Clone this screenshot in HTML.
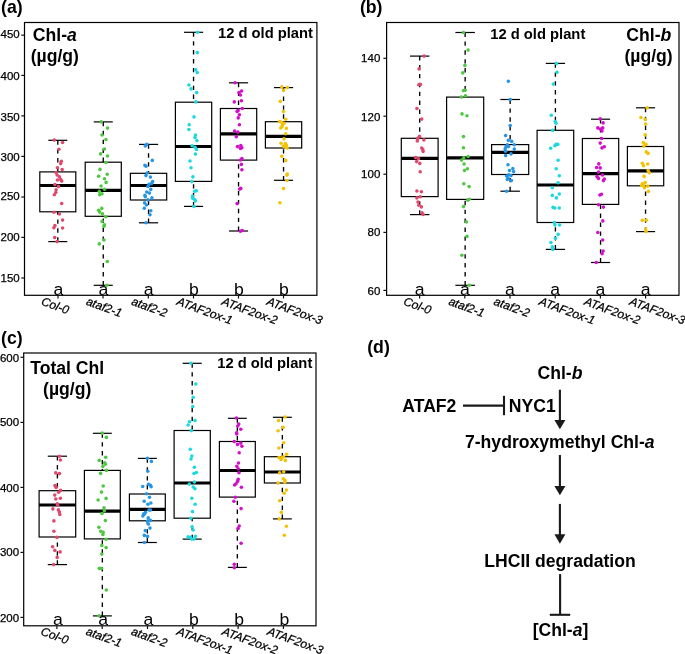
<!DOCTYPE html>
<html><head><meta charset="utf-8"><style>
html,body{margin:0;padding:0;background:#fff;overflow:hidden;}
svg{display:block;will-change:transform;}
text{font-family:"Liberation Sans", sans-serif;}
.w{stroke:#000;stroke-width:1.35;stroke-dasharray:4.4 4.5;}
.c{stroke:#000;stroke-width:1.2;}
.b{fill:none;stroke:#000;stroke-width:1.2;}
.m{stroke:#000;stroke-width:3.2;}
.fr{fill:none;stroke:#000;stroke-width:1.2;}
.tk{stroke:#111;stroke-width:1.2;}
.yl{font-size:11.5px;text-anchor:end;fill:#000;stroke:#000;stroke-width:0.25;}
.xl{font-size:11.9px;font-style:italic;fill:#000;stroke:#000;stroke-width:0.25;}
.lt{font-size:16.5px;text-anchor:middle;fill:#000;}
.tb{font-weight:bold;fill:#000;}
.pl{font-weight:bold;font-size:17.7px;fill:#000;}
.dt{font-weight:bold;font-size:17.6px;fill:#000;}
.ar{stroke:#1a1a1a;stroke-width:2.1;fill:none;}
</style></head><body>
<svg width="685" height="654" viewBox="0 0 685 654">
<rect width="685" height="654" fill="#fff"/>
<text x="1.0" y="13.1" class="pl">(a)</text>
<text x="359.9" y="12.7" class="pl">(b)</text>
<text x="1.0" y="343.6" class="pl">(c)</text>
<text x="367.2" y="352.8" class="pl">(d)</text>
<text x="54.8" y="40.9" class="tb" font-size="17.6" text-anchor="middle">Chl-<tspan font-style="italic">a</tspan></text>
<text x="54.8" y="62" class="tb" font-size="17.6" text-anchor="middle">(µg/g)</text>
<text x="313.0" y="38.2" class="tb" font-size="14.75" text-anchor="end">12 d old plant</text>
<text x="648.8" y="40.5" class="tb" font-size="17.6" text-anchor="middle">Chl-<tspan font-style="italic">b</tspan></text>
<text x="648.6" y="61.8" class="tb" font-size="17.6" text-anchor="middle">(µg/g)</text>
<text x="585.3" y="39.2" class="tb" font-size="14.75" text-anchor="end">12 d old plant</text>
<text x="67.2" y="373.7" class="tb" font-size="17.6" text-anchor="middle">Total Chl</text>
<text x="67.2" y="394.8" class="tb" font-size="17.6" text-anchor="middle">(µg/g)</text>
<text x="312.3" y="368.3" class="tb" font-size="14.75" text-anchor="end">12 d old plant</text>
<line x1="57.8" y1="140.3" x2="57.8" y2="171.9" class="w"/>
<line x1="57.8" y1="241.6" x2="57.8" y2="211.8" class="w"/>
<line x1="48.3" y1="140.3" x2="67.3" y2="140.3" class="c"/>
<line x1="48.3" y1="241.6" x2="67.3" y2="241.6" class="c"/>
<rect x="39.8" y="171.9" width="36" height="39.9" class="b"/>
<line x1="39.8" y1="185.5" x2="75.8" y2="185.5" class="m"/>
<line x1="103.25" y1="121.9" x2="103.25" y2="162.2" class="w"/>
<line x1="103.25" y1="285.3" x2="103.25" y2="216.3" class="w"/>
<line x1="93.72" y1="121.9" x2="112.78" y2="121.9" class="c"/>
<line x1="93.72" y1="285.3" x2="112.78" y2="285.3" class="c"/>
<rect x="85.2" y="162.2" width="36.1" height="54.1" class="b"/>
<line x1="85.2" y1="190.3" x2="121.3" y2="190.3" class="m"/>
<line x1="148.55" y1="144.4" x2="148.55" y2="173.3" class="w"/>
<line x1="148.55" y1="222.8" x2="148.55" y2="200" class="w"/>
<line x1="138.98" y1="144.4" x2="158.12" y2="144.4" class="c"/>
<line x1="138.98" y1="222.8" x2="158.12" y2="222.8" class="c"/>
<rect x="130.4" y="173.3" width="36.3" height="26.7" class="b"/>
<line x1="130.4" y1="185.5" x2="166.7" y2="185.5" class="m"/>
<line x1="193.55" y1="32.3" x2="193.55" y2="102.2" class="w"/>
<line x1="193.55" y1="206.4" x2="193.55" y2="181.4" class="w"/>
<line x1="183.98" y1="32.3" x2="203.12" y2="32.3" class="c"/>
<line x1="183.98" y1="206.4" x2="203.12" y2="206.4" class="c"/>
<rect x="175.4" y="102.2" width="36.3" height="79.2" class="b"/>
<line x1="175.4" y1="146.5" x2="211.7" y2="146.5" class="m"/>
<line x1="238.55" y1="82.8" x2="238.55" y2="108.5" class="w"/>
<line x1="238.55" y1="231" x2="238.55" y2="160.1" class="w"/>
<line x1="228.98" y1="82.8" x2="248.12" y2="82.8" class="c"/>
<line x1="228.98" y1="231" x2="248.12" y2="231" class="c"/>
<rect x="220.4" y="108.5" width="36.3" height="51.6" class="b"/>
<line x1="220.4" y1="133.9" x2="256.7" y2="133.9" class="m"/>
<line x1="283.55" y1="87.6" x2="283.55" y2="121.7" class="w"/>
<line x1="283.55" y1="180.3" x2="283.55" y2="148" class="w"/>
<line x1="273.97" y1="87.6" x2="293.12" y2="87.6" class="c"/>
<line x1="273.97" y1="180.3" x2="293.12" y2="180.3" class="c"/>
<rect x="265.4" y="121.7" width="36.3" height="26.3" class="b"/>
<line x1="265.4" y1="136.4" x2="301.7" y2="136.4" class="m"/>
<g fill="#E0486C">
<circle cx="54.3" cy="140.1" r="1.78"/>
<circle cx="62.6" cy="142.5" r="1.78"/>
<circle cx="58.9" cy="149.3" r="1.78"/>
<circle cx="61.3" cy="161.25" r="1.78"/>
<circle cx="60.7" cy="163.6" r="1.78"/>
<circle cx="57.4" cy="167.7" r="1.78"/>
<circle cx="62.2" cy="169.5" r="1.78"/>
<circle cx="56.1" cy="172.6" r="1.78"/>
<circle cx="57.1" cy="175" r="1.78"/>
<circle cx="59.4" cy="176.9" r="1.78"/>
<circle cx="60.7" cy="179.6" r="1.78"/>
<circle cx="57.4" cy="180" r="1.78"/>
<circle cx="61.7" cy="181.1" r="1.78"/>
<circle cx="54.9" cy="184.6" r="1.78"/>
<circle cx="58.5" cy="186.4" r="1.78"/>
<circle cx="56.1" cy="189.7" r="1.78"/>
<circle cx="55.8" cy="192.5" r="1.78"/>
<circle cx="54.3" cy="194.7" r="1.78"/>
<circle cx="61.7" cy="203.5" r="1.78"/>
<circle cx="53.9" cy="212.2" r="1.78"/>
<circle cx="59.4" cy="214" r="1.78"/>
<circle cx="62.6" cy="220.1" r="1.78"/>
<circle cx="54.9" cy="225.6" r="1.78"/>
<circle cx="53.9" cy="227.8" r="1.78"/>
<circle cx="62.6" cy="228" r="1.78"/>
<circle cx="54.7" cy="237.5" r="1.78"/>
<circle cx="57.1" cy="241.6" r="1.78"/>
</g>
<g fill="#4EC841">
<circle cx="101.3" cy="121.9" r="1.78"/>
<circle cx="107.5" cy="128.1" r="1.78"/>
<circle cx="102" cy="135" r="1.78"/>
<circle cx="105.9" cy="139.5" r="1.78"/>
<circle cx="104.4" cy="149.1" r="1.78"/>
<circle cx="100.6" cy="153.9" r="1.78"/>
<circle cx="107.5" cy="156" r="1.78"/>
<circle cx="105.9" cy="162.5" r="1.78"/>
<circle cx="100" cy="169.4" r="1.78"/>
<circle cx="98.6" cy="176.2" r="1.78"/>
<circle cx="107.2" cy="174.2" r="1.78"/>
<circle cx="104.5" cy="178.7" r="1.78"/>
<circle cx="106.1" cy="182.4" r="1.78"/>
<circle cx="101.1" cy="186" r="1.78"/>
<circle cx="104.5" cy="189.3" r="1.78"/>
<circle cx="99.3" cy="191.4" r="1.78"/>
<circle cx="102" cy="193.7" r="1.78"/>
<circle cx="99.7" cy="194.8" r="1.78"/>
<circle cx="101.8" cy="208.4" r="1.78"/>
<circle cx="98.6" cy="210.2" r="1.78"/>
<circle cx="99.6" cy="212.1" r="1.78"/>
<circle cx="102.5" cy="213.9" r="1.78"/>
<circle cx="105.8" cy="216.8" r="1.78"/>
<circle cx="102.1" cy="221.4" r="1.78"/>
<circle cx="104.4" cy="224.8" r="1.78"/>
<circle cx="104" cy="226.2" r="1.78"/>
<circle cx="104" cy="240" r="1.78"/>
<circle cx="99.3" cy="243.9" r="1.78"/>
<circle cx="107.3" cy="261.5" r="1.78"/>
<circle cx="106.9" cy="285.3" r="1.78"/>
</g>
<g fill="#2595E6">
<circle cx="145.3" cy="145.9" r="1.78"/>
<circle cx="146.8" cy="144.4" r="1.78"/>
<circle cx="152.3" cy="160.4" r="1.78"/>
<circle cx="144.9" cy="165.2" r="1.78"/>
<circle cx="146" cy="166.2" r="1.78"/>
<circle cx="147.2" cy="173" r="1.78"/>
<circle cx="146" cy="175.6" r="1.78"/>
<circle cx="150.4" cy="177.1" r="1.78"/>
<circle cx="152.6" cy="181.5" r="1.78"/>
<circle cx="149" cy="184.4" r="1.78"/>
<circle cx="151.6" cy="183.6" r="1.78"/>
<circle cx="147.8" cy="186.5" r="1.78"/>
<circle cx="150.8" cy="189.4" r="1.78"/>
<circle cx="146.8" cy="192" r="1.78"/>
<circle cx="149.4" cy="193.1" r="1.78"/>
<circle cx="144.9" cy="195.2" r="1.78"/>
<circle cx="145.3" cy="196.7" r="1.78"/>
<circle cx="151.9" cy="197.9" r="1.78"/>
<circle cx="147.9" cy="199.9" r="1.78"/>
<circle cx="144.6" cy="202.9" r="1.78"/>
<circle cx="146.5" cy="205" r="1.78"/>
<circle cx="144.3" cy="208.3" r="1.78"/>
<circle cx="150.8" cy="210.8" r="1.78"/>
<circle cx="150" cy="214.8" r="1.78"/>
<circle cx="146" cy="222.8" r="1.78"/>
</g>
<g fill="#1CD8DF">
<circle cx="197.6" cy="32.3" r="1.78"/>
<circle cx="197.3" cy="52.6" r="1.78"/>
<circle cx="195.7" cy="69.7" r="1.78"/>
<circle cx="197.3" cy="72.6" r="1.78"/>
<circle cx="188.9" cy="85" r="1.78"/>
<circle cx="191" cy="88.9" r="1.78"/>
<circle cx="196.6" cy="92.5" r="1.78"/>
<circle cx="195.8" cy="101.9" r="1.78"/>
<circle cx="194" cy="116.9" r="1.78"/>
<circle cx="189.2" cy="124.7" r="1.78"/>
<circle cx="188.9" cy="129.5" r="1.78"/>
<circle cx="195.4" cy="135.1" r="1.78"/>
<circle cx="195" cy="137.5" r="1.78"/>
<circle cx="196.9" cy="140.6" r="1.78"/>
<circle cx="192.1" cy="145.7" r="1.78"/>
<circle cx="195" cy="147.2" r="1.78"/>
<circle cx="196.4" cy="149.4" r="1.78"/>
<circle cx="195.4" cy="154.1" r="1.78"/>
<circle cx="190" cy="161" r="1.78"/>
<circle cx="191" cy="167.8" r="1.78"/>
<circle cx="192.9" cy="176.9" r="1.78"/>
<circle cx="191.8" cy="181.6" r="1.78"/>
<circle cx="194.7" cy="191.2" r="1.78"/>
<circle cx="196.4" cy="190.7" r="1.78"/>
<circle cx="192.5" cy="196" r="1.78"/>
<circle cx="192.5" cy="198.1" r="1.78"/>
<circle cx="194.7" cy="199.6" r="1.78"/>
<circle cx="195.4" cy="201" r="1.78"/>
<circle cx="194" cy="206.4" r="1.78"/>
</g>
<g fill="#D30FC9">
<circle cx="235" cy="82.8" r="1.78"/>
<circle cx="241.6" cy="91" r="1.78"/>
<circle cx="239" cy="92.5" r="1.78"/>
<circle cx="240.4" cy="95" r="1.78"/>
<circle cx="234.3" cy="101.9" r="1.78"/>
<circle cx="241.4" cy="100.8" r="1.78"/>
<circle cx="242.3" cy="108.5" r="1.78"/>
<circle cx="238.2" cy="110.4" r="1.78"/>
<circle cx="237.1" cy="111.4" r="1.78"/>
<circle cx="239.4" cy="114.7" r="1.78"/>
<circle cx="238.2" cy="117.9" r="1.78"/>
<circle cx="239.4" cy="124.7" r="1.78"/>
<circle cx="234.6" cy="131" r="1.78"/>
<circle cx="237.8" cy="132.1" r="1.78"/>
<circle cx="236.3" cy="136.8" r="1.78"/>
<circle cx="237.5" cy="146.6" r="1.78"/>
<circle cx="240.8" cy="145.5" r="1.78"/>
<circle cx="241.9" cy="147.7" r="1.78"/>
<circle cx="240.4" cy="148.4" r="1.78"/>
<circle cx="241.9" cy="158.5" r="1.78"/>
<circle cx="240.4" cy="160" r="1.78"/>
<circle cx="241.4" cy="164.4" r="1.78"/>
<circle cx="241.9" cy="169.8" r="1.78"/>
<circle cx="240.8" cy="188.4" r="1.78"/>
<circle cx="239.7" cy="189.1" r="1.78"/>
<circle cx="237.1" cy="203.6" r="1.78"/>
<circle cx="240.4" cy="231.2" r="1.78"/>
<circle cx="242.3" cy="230.5" r="1.78"/>
</g>
<g fill="#F2C204">
<circle cx="281.8" cy="86.9" r="1.78"/>
<circle cx="287.3" cy="87.6" r="1.78"/>
<circle cx="283.5" cy="90.2" r="1.78"/>
<circle cx="280.3" cy="101.4" r="1.78"/>
<circle cx="283.5" cy="111.6" r="1.78"/>
<circle cx="285.7" cy="119.3" r="1.78"/>
<circle cx="279.6" cy="121.5" r="1.78"/>
<circle cx="281.5" cy="122.2" r="1.78"/>
<circle cx="284" cy="123.3" r="1.78"/>
<circle cx="282.5" cy="125.1" r="1.78"/>
<circle cx="282.1" cy="126.5" r="1.78"/>
<circle cx="280.8" cy="128" r="1.78"/>
<circle cx="286.4" cy="128.4" r="1.78"/>
<circle cx="285.7" cy="133.8" r="1.78"/>
<circle cx="284" cy="138.9" r="1.78"/>
<circle cx="281" cy="143.2" r="1.78"/>
<circle cx="285.4" cy="143.5" r="1.78"/>
<circle cx="283.2" cy="146.1" r="1.78"/>
<circle cx="286.4" cy="145.4" r="1.78"/>
<circle cx="285.4" cy="147.1" r="1.78"/>
<circle cx="287.1" cy="148" r="1.78"/>
<circle cx="281.8" cy="156.3" r="1.78"/>
<circle cx="285.7" cy="160.4" r="1.78"/>
<circle cx="287.3" cy="174" r="1.78"/>
<circle cx="286.9" cy="175.1" r="1.78"/>
<circle cx="286.9" cy="180.5" r="1.78"/>
<circle cx="283.5" cy="188.5" r="1.78"/>
<circle cx="279.9" cy="202.7" r="1.78"/>
</g>
<text transform="translate(58.3 294.5) scale(1.07 1)" class="lt">a</text>
<text transform="translate(103.3 294.5) scale(1.07 1)" class="lt">a</text>
<text transform="translate(148.6 294.5) scale(1.07 1)" class="lt">a</text>
<text transform="translate(193.8 294.5) scale(1.07 1)" class="lt">b</text>
<text transform="translate(238.8 294.5) scale(1.07 1)" class="lt">b</text>
<text transform="translate(283.8 294.5) scale(1.07 1)" class="lt">b</text>
<rect x="24.5" y="22.5" width="292.4" height="272.8" class="fr"/>
<line x1="21.3" y1="35.15" x2="24.5" y2="35.15" class="tk"/>
<text x="19.7" y="38" class="yl">450</text>
<line x1="21.3" y1="75.4" x2="24.5" y2="75.4" class="tk"/>
<text x="19.7" y="80" class="yl">400</text>
<line x1="21.3" y1="115.9" x2="24.5" y2="115.9" class="tk"/>
<text x="19.7" y="121" class="yl">350</text>
<line x1="21.3" y1="156.4" x2="24.5" y2="156.4" class="tk"/>
<text x="19.7" y="161" class="yl">300</text>
<line x1="21.3" y1="197" x2="24.5" y2="197" class="tk"/>
<text x="19.7" y="200" class="yl">250</text>
<line x1="21.3" y1="237.4" x2="24.5" y2="237.4" class="tk"/>
<text x="19.7" y="241" class="yl">200</text>
<line x1="21.3" y1="278" x2="24.5" y2="278" class="tk"/>
<text x="19.7" y="282" class="yl">150</text>
<line x1="58" y1="295.3" x2="58" y2="298.5" class="tk"/>
<text x="40.4" y="304.6" transform="rotate(20 40.4 304.6)" class="xl">Col-0</text>
<line x1="103" y1="295.3" x2="103" y2="298.5" class="tk"/>
<text x="85.4" y="304.6" transform="rotate(20 85.4 304.6)" class="xl">ataf2-1</text>
<line x1="148.3" y1="295.3" x2="148.3" y2="298.5" class="tk"/>
<text x="130.7" y="304.6" transform="rotate(20 130.7 304.6)" class="xl">ataf2-2</text>
<line x1="193.5" y1="295.3" x2="193.5" y2="298.5" class="tk"/>
<text x="175.9" y="304.6" transform="rotate(20 175.9 304.6)" class="xl">ATAF2ox-1</text>
<line x1="238.5" y1="295.3" x2="238.5" y2="298.5" class="tk"/>
<text x="220.9" y="304.6" transform="rotate(20 220.9 304.6)" class="xl">ATAF2ox-2</text>
<line x1="283.5" y1="295.3" x2="283.5" y2="298.5" class="tk"/>
<text x="265.9" y="304.6" transform="rotate(20 265.9 304.6)" class="xl">ATAF2ox-3</text>
<line x1="419.7" y1="56.1" x2="419.7" y2="138.3" class="w"/>
<line x1="419.7" y1="214.6" x2="419.7" y2="196.6" class="w"/>
<line x1="410" y1="56.1" x2="429.4" y2="56.1" class="c"/>
<line x1="410" y1="214.6" x2="429.4" y2="214.6" class="c"/>
<rect x="401.3" y="138.3" width="36.8" height="58.3" class="b"/>
<line x1="401.3" y1="158.3" x2="438.1" y2="158.3" class="m"/>
<line x1="465.15" y1="32.5" x2="465.15" y2="97.1" class="w"/>
<line x1="465.15" y1="285.3" x2="465.15" y2="199.4" class="w"/>
<line x1="455.38" y1="32.5" x2="474.92" y2="32.5" class="c"/>
<line x1="455.38" y1="285.3" x2="474.92" y2="285.3" class="c"/>
<rect x="446.6" y="97.1" width="37.1" height="102.3" class="b"/>
<line x1="446.6" y1="157.9" x2="483.7" y2="157.9" class="m"/>
<line x1="510.15" y1="99.5" x2="510.15" y2="144.6" class="w"/>
<line x1="510.15" y1="191.2" x2="510.15" y2="174.5" class="w"/>
<line x1="500.38" y1="99.5" x2="519.93" y2="99.5" class="c"/>
<line x1="500.38" y1="191.2" x2="519.93" y2="191.2" class="c"/>
<rect x="491.6" y="144.6" width="37.1" height="29.9" class="b"/>
<line x1="491.6" y1="152.3" x2="528.7" y2="152.3" class="m"/>
<line x1="555.4" y1="63.4" x2="555.4" y2="130.3" class="w"/>
<line x1="555.4" y1="249.4" x2="555.4" y2="222.5" class="w"/>
<line x1="545.75" y1="63.4" x2="565.05" y2="63.4" class="c"/>
<line x1="545.75" y1="249.4" x2="565.05" y2="249.4" class="c"/>
<rect x="537.1" y="130.3" width="36.6" height="92.2" class="b"/>
<line x1="537.1" y1="185" x2="573.7" y2="185" class="m"/>
<line x1="600.55" y1="119.2" x2="600.55" y2="138.5" class="w"/>
<line x1="600.55" y1="262.5" x2="600.55" y2="204.4" class="w"/>
<line x1="590.97" y1="119.2" x2="610.12" y2="119.2" class="c"/>
<line x1="590.97" y1="262.5" x2="610.12" y2="262.5" class="c"/>
<rect x="582.4" y="138.5" width="36.3" height="65.9" class="b"/>
<line x1="582.4" y1="173.6" x2="618.7" y2="173.6" class="m"/>
<line x1="645.55" y1="107.8" x2="645.55" y2="146.5" class="w"/>
<line x1="645.55" y1="231.6" x2="645.55" y2="185.8" class="w"/>
<line x1="635.97" y1="107.8" x2="655.12" y2="107.8" class="c"/>
<line x1="635.97" y1="231.6" x2="655.12" y2="231.6" class="c"/>
<rect x="627.4" y="146.5" width="36.3" height="39.3" class="b"/>
<line x1="627.4" y1="170.9" x2="663.7" y2="170.9" class="m"/>
<g fill="#E0486C">
<circle cx="424.1" cy="56.1" r="1.78"/>
<circle cx="419.1" cy="68.9" r="1.78"/>
<circle cx="418.8" cy="84.8" r="1.78"/>
<circle cx="420.5" cy="84.5" r="1.78"/>
<circle cx="416.9" cy="108.5" r="1.78"/>
<circle cx="421.7" cy="119.1" r="1.78"/>
<circle cx="419.5" cy="136.3" r="1.78"/>
<circle cx="417.8" cy="138.4" r="1.78"/>
<circle cx="417.3" cy="140.9" r="1.78"/>
<circle cx="423.9" cy="139.9" r="1.78"/>
<circle cx="421.7" cy="148.1" r="1.78"/>
<circle cx="422.8" cy="149.6" r="1.78"/>
<circle cx="423.1" cy="151.5" r="1.78"/>
<circle cx="415.6" cy="157.6" r="1.78"/>
<circle cx="418.5" cy="158.7" r="1.78"/>
<circle cx="416.6" cy="161.6" r="1.78"/>
<circle cx="419.8" cy="163.4" r="1.78"/>
<circle cx="420.2" cy="171.7" r="1.78"/>
<circle cx="416.9" cy="191" r="1.78"/>
<circle cx="421.4" cy="191.7" r="1.78"/>
<circle cx="416.9" cy="197.9" r="1.78"/>
<circle cx="420.2" cy="196.8" r="1.78"/>
<circle cx="418" cy="202.1" r="1.78"/>
<circle cx="418.8" cy="205.2" r="1.78"/>
<circle cx="421.4" cy="206.9" r="1.78"/>
<circle cx="422" cy="212.7" r="1.78"/>
<circle cx="423.1" cy="214.5" r="1.78"/>
</g>
<g fill="#4EC841">
<circle cx="463.5" cy="32.5" r="1.78"/>
<circle cx="468.1" cy="50.1" r="1.78"/>
<circle cx="464.9" cy="65.4" r="1.78"/>
<circle cx="462.8" cy="72.9" r="1.78"/>
<circle cx="463.5" cy="90.6" r="1.78"/>
<circle cx="465.2" cy="90.3" r="1.78"/>
<circle cx="465.5" cy="95.7" r="1.78"/>
<circle cx="461.3" cy="97.1" r="1.78"/>
<circle cx="462" cy="113.9" r="1.78"/>
<circle cx="467" cy="115.7" r="1.78"/>
<circle cx="463.5" cy="136.6" r="1.78"/>
<circle cx="463.5" cy="147.7" r="1.78"/>
<circle cx="468.1" cy="156.5" r="1.78"/>
<circle cx="463.8" cy="157.9" r="1.78"/>
<circle cx="461.6" cy="160.1" r="1.78"/>
<circle cx="464.1" cy="164" r="1.78"/>
<circle cx="467.4" cy="168.8" r="1.78"/>
<circle cx="464.5" cy="170.5" r="1.78"/>
<circle cx="463.8" cy="183.7" r="1.78"/>
<circle cx="469.1" cy="186.6" r="1.78"/>
<circle cx="467.8" cy="200.2" r="1.78"/>
<circle cx="469.3" cy="199.3" r="1.78"/>
<circle cx="463.5" cy="206.6" r="1.78"/>
<circle cx="466.4" cy="221.9" r="1.78"/>
<circle cx="467" cy="236.4" r="1.78"/>
<circle cx="461.9" cy="255.2" r="1.78"/>
<circle cx="469.3" cy="285.3" r="1.78"/>
</g>
<g fill="#2595E6">
<circle cx="508.3" cy="81.3" r="1.78"/>
<circle cx="510.2" cy="99.5" r="1.78"/>
<circle cx="510.2" cy="125.6" r="1.78"/>
<circle cx="505.6" cy="135.6" r="1.78"/>
<circle cx="508.3" cy="140.4" r="1.78"/>
<circle cx="511.7" cy="141.4" r="1.78"/>
<circle cx="514.3" cy="144.8" r="1.78"/>
<circle cx="507.3" cy="144.8" r="1.78"/>
<circle cx="505.9" cy="146.9" r="1.78"/>
<circle cx="508.5" cy="146.6" r="1.78"/>
<circle cx="505.1" cy="149.1" r="1.78"/>
<circle cx="514.3" cy="149.1" r="1.78"/>
<circle cx="505.6" cy="151.3" r="1.78"/>
<circle cx="511" cy="153.9" r="1.78"/>
<circle cx="505.6" cy="155.6" r="1.78"/>
<circle cx="508" cy="164.8" r="1.78"/>
<circle cx="509.5" cy="170.5" r="1.78"/>
<circle cx="512.8" cy="168.6" r="1.78"/>
<circle cx="513.6" cy="171.6" r="1.78"/>
<circle cx="508.8" cy="174.8" r="1.78"/>
<circle cx="506.6" cy="176" r="1.78"/>
<circle cx="511" cy="175.6" r="1.78"/>
<circle cx="508" cy="178" r="1.78"/>
<circle cx="507.3" cy="179.5" r="1.78"/>
<circle cx="511.4" cy="180.6" r="1.78"/>
<circle cx="506.6" cy="191.2" r="1.78"/>
</g>
<g fill="#1CD8DF">
<circle cx="556.4" cy="63.4" r="1.78"/>
<circle cx="557" cy="72.2" r="1.78"/>
<circle cx="553.3" cy="84.1" r="1.78"/>
<circle cx="551.3" cy="115.3" r="1.78"/>
<circle cx="555.2" cy="121.6" r="1.78"/>
<circle cx="556" cy="123.3" r="1.78"/>
<circle cx="552.5" cy="130.4" r="1.78"/>
<circle cx="556" cy="144.4" r="1.78"/>
<circle cx="557.8" cy="144.4" r="1.78"/>
<circle cx="554.9" cy="145.8" r="1.78"/>
<circle cx="550.6" cy="148.2" r="1.78"/>
<circle cx="558.1" cy="160.3" r="1.78"/>
<circle cx="556.2" cy="168.8" r="1.78"/>
<circle cx="559.3" cy="175.8" r="1.78"/>
<circle cx="558.1" cy="182.8" r="1.78"/>
<circle cx="552.3" cy="187.7" r="1.78"/>
<circle cx="559.3" cy="194" r="1.78"/>
<circle cx="552.3" cy="195.4" r="1.78"/>
<circle cx="556.4" cy="197.9" r="1.78"/>
<circle cx="553" cy="207.4" r="1.78"/>
<circle cx="554.9" cy="208" r="1.78"/>
<circle cx="559.3" cy="208" r="1.78"/>
<circle cx="554.5" cy="222.5" r="1.78"/>
<circle cx="554.9" cy="225" r="1.78"/>
<circle cx="559.6" cy="225" r="1.78"/>
<circle cx="558.1" cy="234.4" r="1.78"/>
<circle cx="555.5" cy="238.2" r="1.78"/>
<circle cx="550.9" cy="242.5" r="1.78"/>
<circle cx="552.3" cy="246.9" r="1.78"/>
<circle cx="552.8" cy="249.4" r="1.78"/>
</g>
<g fill="#D30FC9">
<circle cx="600.2" cy="118.9" r="1.78"/>
<circle cx="603.1" cy="122.9" r="1.78"/>
<circle cx="597.8" cy="127.9" r="1.78"/>
<circle cx="600.2" cy="129" r="1.78"/>
<circle cx="602.7" cy="127.9" r="1.78"/>
<circle cx="602" cy="130.9" r="1.78"/>
<circle cx="601.7" cy="138.5" r="1.78"/>
<circle cx="600.2" cy="143.1" r="1.78"/>
<circle cx="602" cy="147.9" r="1.78"/>
<circle cx="604.3" cy="146.7" r="1.78"/>
<circle cx="598.8" cy="163.9" r="1.78"/>
<circle cx="596.6" cy="167.5" r="1.78"/>
<circle cx="600.2" cy="167.9" r="1.78"/>
<circle cx="598.5" cy="172.1" r="1.78"/>
<circle cx="597" cy="176.6" r="1.78"/>
<circle cx="598.5" cy="178.4" r="1.78"/>
<circle cx="602.4" cy="175" r="1.78"/>
<circle cx="604.3" cy="179.1" r="1.78"/>
<circle cx="603.4" cy="180.6" r="1.78"/>
<circle cx="599.9" cy="195" r="1.78"/>
<circle cx="601.4" cy="194.2" r="1.78"/>
<circle cx="598.5" cy="204.7" r="1.78"/>
<circle cx="603.4" cy="207.1" r="1.78"/>
<circle cx="602.8" cy="220.9" r="1.78"/>
<circle cx="597.8" cy="232.5" r="1.78"/>
<circle cx="602.7" cy="240" r="1.78"/>
<circle cx="603.1" cy="251.1" r="1.78"/>
<circle cx="602.1" cy="253.7" r="1.78"/>
<circle cx="596.3" cy="262.5" r="1.78"/>
</g>
<g fill="#F2C204">
<circle cx="647.1" cy="107.8" r="1.78"/>
<circle cx="640.9" cy="117.5" r="1.78"/>
<circle cx="645.2" cy="119.4" r="1.78"/>
<circle cx="645.7" cy="124" r="1.78"/>
<circle cx="645.2" cy="134.9" r="1.78"/>
<circle cx="643.3" cy="142.5" r="1.78"/>
<circle cx="646" cy="144.4" r="1.78"/>
<circle cx="643.8" cy="146.1" r="1.78"/>
<circle cx="646.2" cy="151.9" r="1.78"/>
<circle cx="648.1" cy="153.4" r="1.78"/>
<circle cx="642.3" cy="163.2" r="1.78"/>
<circle cx="647.7" cy="164" r="1.78"/>
<circle cx="643.5" cy="165.7" r="1.78"/>
<circle cx="648.1" cy="170.5" r="1.78"/>
<circle cx="649.3" cy="172.7" r="1.78"/>
<circle cx="644.1" cy="176.4" r="1.78"/>
<circle cx="645.2" cy="182.5" r="1.78"/>
<circle cx="642.3" cy="183.8" r="1.78"/>
<circle cx="643.8" cy="185.7" r="1.78"/>
<circle cx="647.7" cy="186.1" r="1.78"/>
<circle cx="644.5" cy="187.7" r="1.78"/>
<circle cx="641.6" cy="185.5" r="1.78"/>
<circle cx="648.4" cy="191.4" r="1.78"/>
<circle cx="642.3" cy="220.3" r="1.78"/>
<circle cx="646.4" cy="220.3" r="1.78"/>
<circle cx="645.7" cy="229" r="1.78"/>
<circle cx="646" cy="231.6" r="1.78"/>
</g>
<text transform="translate(419.6 294.5) scale(1.07 1)" class="lt">a</text>
<text transform="translate(464.8 294.5) scale(1.07 1)" class="lt">a</text>
<text transform="translate(510 294.5) scale(1.07 1)" class="lt">a</text>
<text transform="translate(555.2 294.5) scale(1.07 1)" class="lt">a</text>
<text transform="translate(600.4 294.5) scale(1.07 1)" class="lt">a</text>
<text transform="translate(645.6 294.5) scale(1.07 1)" class="lt">a</text>
<rect x="386.6" y="22.5" width="292.4" height="272.8" class="fr"/>
<line x1="383.4" y1="58.3" x2="386.6" y2="58.3" class="tk"/>
<text x="380.3" y="62" class="yl">140</text>
<line x1="383.4" y1="116.2" x2="386.6" y2="116.2" class="tk"/>
<text x="380.3" y="121" class="yl">120</text>
<line x1="383.4" y1="174.2" x2="386.6" y2="174.2" class="tk"/>
<text x="380.3" y="178" class="yl">100</text>
<line x1="383.4" y1="232.4" x2="386.6" y2="232.4" class="tk"/>
<text x="380.3" y="236" class="yl">80</text>
<line x1="383.4" y1="290.4" x2="386.6" y2="290.4" class="tk"/>
<text x="380.3" y="295" class="yl">60</text>
<line x1="419.6" y1="295.3" x2="419.6" y2="298.5" class="tk"/>
<text x="402.7" y="304.6" transform="rotate(20 402.7 304.6)" class="xl">Col-0</text>
<line x1="464.8" y1="295.3" x2="464.8" y2="298.5" class="tk"/>
<text x="447.9" y="304.6" transform="rotate(20 447.9 304.6)" class="xl">ataf2-1</text>
<line x1="510" y1="295.3" x2="510" y2="298.5" class="tk"/>
<text x="493.1" y="304.6" transform="rotate(20 493.1 304.6)" class="xl">ataf2-2</text>
<line x1="555.2" y1="295.3" x2="555.2" y2="298.5" class="tk"/>
<text x="538.3" y="304.6" transform="rotate(20 538.3 304.6)" class="xl">ATAF2ox-1</text>
<line x1="600.4" y1="295.3" x2="600.4" y2="298.5" class="tk"/>
<text x="583.5" y="304.6" transform="rotate(20 583.5 304.6)" class="xl">ATAF2ox-2</text>
<line x1="645.6" y1="295.3" x2="645.6" y2="298.5" class="tk"/>
<text x="628.7" y="304.6" transform="rotate(20 628.7 304.6)" class="xl">ATAF2ox-3</text>
<line x1="57.4" y1="456.2" x2="57.4" y2="490.7" class="w"/>
<line x1="57.4" y1="564.6" x2="57.4" y2="537" class="w"/>
<line x1="47.75" y1="456.2" x2="67.05" y2="456.2" class="c"/>
<line x1="47.75" y1="564.6" x2="67.05" y2="564.6" class="c"/>
<rect x="39.1" y="490.7" width="36.6" height="46.3" class="b"/>
<line x1="39.1" y1="505" x2="75.7" y2="505" class="m"/>
<line x1="102.35" y1="433.3" x2="102.35" y2="470.4" class="w"/>
<line x1="102.35" y1="615.9" x2="102.35" y2="538.9" class="w"/>
<line x1="92.88" y1="433.3" x2="111.82" y2="433.3" class="c"/>
<line x1="92.88" y1="615.9" x2="111.82" y2="615.9" class="c"/>
<rect x="84.4" y="470.4" width="35.9" height="68.5" class="b"/>
<line x1="84.4" y1="511.2" x2="120.3" y2="511.2" class="m"/>
<line x1="147.35" y1="458.4" x2="147.35" y2="494" class="w"/>
<line x1="147.35" y1="542.5" x2="147.35" y2="520.8" class="w"/>
<line x1="137.88" y1="458.4" x2="156.83" y2="458.4" class="c"/>
<line x1="137.88" y1="542.5" x2="156.83" y2="542.5" class="c"/>
<rect x="129.4" y="494" width="35.9" height="26.8" class="b"/>
<line x1="129.4" y1="509.4" x2="165.3" y2="509.4" class="m"/>
<line x1="192.2" y1="363.3" x2="192.2" y2="430.5" class="w"/>
<line x1="192.2" y1="539.1" x2="192.2" y2="518.2" class="w"/>
<line x1="182.65" y1="363.3" x2="201.75" y2="363.3" class="c"/>
<line x1="182.65" y1="539.1" x2="201.75" y2="539.1" class="c"/>
<rect x="174.1" y="430.5" width="36.2" height="87.7" class="b"/>
<line x1="174.1" y1="483" x2="210.3" y2="483" class="m"/>
<line x1="237.35" y1="418.3" x2="237.35" y2="441.5" class="w"/>
<line x1="237.35" y1="567.4" x2="237.35" y2="497.1" class="w"/>
<line x1="227.88" y1="418.3" x2="246.83" y2="418.3" class="c"/>
<line x1="227.88" y1="567.4" x2="246.83" y2="567.4" class="c"/>
<rect x="219.4" y="441.5" width="35.9" height="55.6" class="b"/>
<line x1="219.4" y1="470.5" x2="255.3" y2="470.5" class="m"/>
<line x1="282.35" y1="417.3" x2="282.35" y2="456.7" class="w"/>
<line x1="282.35" y1="518.9" x2="282.35" y2="483" class="w"/>
<line x1="272.88" y1="417.3" x2="291.83" y2="417.3" class="c"/>
<line x1="272.88" y1="518.9" x2="291.83" y2="518.9" class="c"/>
<rect x="264.4" y="456.7" width="35.9" height="26.3" class="b"/>
<line x1="264.4" y1="472" x2="300.3" y2="472" class="m"/>
<g fill="#E0486C">
<circle cx="59.4" cy="456.2" r="1.78"/>
<circle cx="60.4" cy="460" r="1.78"/>
<circle cx="55.8" cy="472.9" r="1.78"/>
<circle cx="59.4" cy="473.6" r="1.78"/>
<circle cx="55" cy="485.6" r="1.78"/>
<circle cx="56.1" cy="487.4" r="1.78"/>
<circle cx="60.6" cy="490.4" r="1.78"/>
<circle cx="58.7" cy="492.2" r="1.78"/>
<circle cx="54.8" cy="495.1" r="1.78"/>
<circle cx="55.8" cy="499" r="1.78"/>
<circle cx="60.4" cy="498.3" r="1.78"/>
<circle cx="57.2" cy="503.8" r="1.78"/>
<circle cx="57.7" cy="505.2" r="1.78"/>
<circle cx="52.9" cy="508.9" r="1.78"/>
<circle cx="58.4" cy="509.9" r="1.78"/>
<circle cx="59.4" cy="512.1" r="1.78"/>
<circle cx="59.8" cy="514.4" r="1.78"/>
<circle cx="53.9" cy="520.9" r="1.78"/>
<circle cx="53.9" cy="531.3" r="1.78"/>
<circle cx="56.9" cy="537.4" r="1.78"/>
<circle cx="52.6" cy="546.8" r="1.78"/>
<circle cx="54.8" cy="550.4" r="1.78"/>
<circle cx="60.1" cy="551.9" r="1.78"/>
<circle cx="57.2" cy="557.4" r="1.78"/>
<circle cx="53.6" cy="564.6" r="1.78"/>
</g>
<g fill="#4EC841">
<circle cx="102.2" cy="433.1" r="1.78"/>
<circle cx="106.4" cy="437.4" r="1.78"/>
<circle cx="105.7" cy="457.3" r="1.78"/>
<circle cx="99.2" cy="460.4" r="1.78"/>
<circle cx="104.7" cy="462.8" r="1.78"/>
<circle cx="105.4" cy="464.3" r="1.78"/>
<circle cx="102.9" cy="466.5" r="1.78"/>
<circle cx="106.4" cy="470.4" r="1.78"/>
<circle cx="100.6" cy="473.4" r="1.78"/>
<circle cx="103.2" cy="486" r="1.78"/>
<circle cx="101.5" cy="492.1" r="1.78"/>
<circle cx="106.1" cy="498.4" r="1.78"/>
<circle cx="98.1" cy="500" r="1.78"/>
<circle cx="104" cy="507.7" r="1.78"/>
<circle cx="104.4" cy="510.8" r="1.78"/>
<circle cx="102" cy="513.5" r="1.78"/>
<circle cx="105.4" cy="520.6" r="1.78"/>
<circle cx="98.9" cy="527.3" r="1.78"/>
<circle cx="100.8" cy="531.2" r="1.78"/>
<circle cx="103.2" cy="532.2" r="1.78"/>
<circle cx="102.9" cy="534.5" r="1.78"/>
<circle cx="106.1" cy="539.2" r="1.78"/>
<circle cx="101.8" cy="545.4" r="1.78"/>
<circle cx="106.1" cy="547.6" r="1.78"/>
<circle cx="101.8" cy="554.1" r="1.78"/>
<circle cx="99.3" cy="568.4" r="1.78"/>
<circle cx="101.4" cy="568.6" r="1.78"/>
<circle cx="106.3" cy="590" r="1.78"/>
<circle cx="99.1" cy="615.7" r="1.78"/>
</g>
<g fill="#2595E6">
<circle cx="147.5" cy="458.2" r="1.78"/>
<circle cx="151.4" cy="461.4" r="1.78"/>
<circle cx="147.8" cy="471.2" r="1.78"/>
<circle cx="142.7" cy="486.5" r="1.78"/>
<circle cx="148.5" cy="484.2" r="1.78"/>
<circle cx="150.4" cy="485.3" r="1.78"/>
<circle cx="151.1" cy="486.8" r="1.78"/>
<circle cx="146.5" cy="493.7" r="1.78"/>
<circle cx="149.5" cy="497.2" r="1.78"/>
<circle cx="144.2" cy="501.3" r="1.78"/>
<circle cx="147.9" cy="504.3" r="1.78"/>
<circle cx="150.9" cy="503" r="1.78"/>
<circle cx="149" cy="510" r="1.78"/>
<circle cx="150.4" cy="510" r="1.78"/>
<circle cx="145.5" cy="512.2" r="1.78"/>
<circle cx="143.6" cy="514.1" r="1.78"/>
<circle cx="144.6" cy="513.9" r="1.78"/>
<circle cx="142.9" cy="516" r="1.78"/>
<circle cx="148.2" cy="517.9" r="1.78"/>
<circle cx="150.4" cy="520.4" r="1.78"/>
<circle cx="147.5" cy="521.1" r="1.78"/>
<circle cx="148.5" cy="524" r="1.78"/>
<circle cx="150" cy="528.1" r="1.78"/>
<circle cx="145.3" cy="530.6" r="1.78"/>
<circle cx="144.3" cy="535.4" r="1.78"/>
<circle cx="147.5" cy="536.4" r="1.78"/>
<circle cx="144.3" cy="542.5" r="1.78"/>
</g>
<g fill="#1CD8DF">
<circle cx="191" cy="363.3" r="1.78"/>
<circle cx="195.8" cy="384" r="1.78"/>
<circle cx="193.2" cy="397.4" r="1.78"/>
<circle cx="192.8" cy="406.5" r="1.78"/>
<circle cx="189.6" cy="421.8" r="1.78"/>
<circle cx="195" cy="420.6" r="1.78"/>
<circle cx="188.1" cy="425" r="1.78"/>
<circle cx="191.4" cy="430.6" r="1.78"/>
<circle cx="190.3" cy="449.2" r="1.78"/>
<circle cx="191.8" cy="456.1" r="1.78"/>
<circle cx="191" cy="459" r="1.78"/>
<circle cx="194.4" cy="467.3" r="1.78"/>
<circle cx="194" cy="473.5" r="1.78"/>
<circle cx="196.4" cy="472.5" r="1.78"/>
<circle cx="194.4" cy="482" r="1.78"/>
<circle cx="189.3" cy="484.1" r="1.78"/>
<circle cx="193.2" cy="487" r="1.78"/>
<circle cx="195" cy="488.8" r="1.78"/>
<circle cx="191.8" cy="498.2" r="1.78"/>
<circle cx="195.1" cy="504.3" r="1.78"/>
<circle cx="192.5" cy="511.6" r="1.78"/>
<circle cx="190.8" cy="518.3" r="1.78"/>
<circle cx="192.1" cy="526.8" r="1.78"/>
<circle cx="193.2" cy="530" r="1.78"/>
<circle cx="188.1" cy="536.9" r="1.78"/>
<circle cx="190.3" cy="537.2" r="1.78"/>
<circle cx="195.4" cy="536.2" r="1.78"/>
<circle cx="191.8" cy="539.1" r="1.78"/>
<circle cx="194" cy="539.1" r="1.78"/>
</g>
<g fill="#D30FC9">
<circle cx="236.5" cy="418" r="1.78"/>
<circle cx="238.7" cy="424.1" r="1.78"/>
<circle cx="237.8" cy="426" r="1.78"/>
<circle cx="240.8" cy="429.3" r="1.78"/>
<circle cx="236.5" cy="432.8" r="1.78"/>
<circle cx="236.8" cy="434" r="1.78"/>
<circle cx="234.2" cy="441.6" r="1.78"/>
<circle cx="237.5" cy="444.4" r="1.78"/>
<circle cx="240.8" cy="443.1" r="1.78"/>
<circle cx="241.9" cy="446.3" r="1.78"/>
<circle cx="239.2" cy="452.8" r="1.78"/>
<circle cx="238.5" cy="463" r="1.78"/>
<circle cx="236.8" cy="466.3" r="1.78"/>
<circle cx="238.2" cy="468.8" r="1.78"/>
<circle cx="239" cy="472.7" r="1.78"/>
<circle cx="238.2" cy="479.4" r="1.78"/>
<circle cx="237.5" cy="481.4" r="1.78"/>
<circle cx="236" cy="483.7" r="1.78"/>
<circle cx="234.6" cy="485" r="1.78"/>
<circle cx="241.4" cy="487.2" r="1.78"/>
<circle cx="235.3" cy="497.2" r="1.78"/>
<circle cx="233.9" cy="501.2" r="1.78"/>
<circle cx="241.1" cy="508.6" r="1.78"/>
<circle cx="239.2" cy="526" r="1.78"/>
<circle cx="238.2" cy="528.5" r="1.78"/>
<circle cx="241.1" cy="543.3" r="1.78"/>
<circle cx="234.3" cy="564.3" r="1.78"/>
<circle cx="234.3" cy="567.7" r="1.78"/>
</g>
<g fill="#F2C204">
<circle cx="285.1" cy="417" r="1.78"/>
<circle cx="278.6" cy="420.6" r="1.78"/>
<circle cx="283.2" cy="427.4" r="1.78"/>
<circle cx="278.1" cy="430.8" r="1.78"/>
<circle cx="283.7" cy="442.7" r="1.78"/>
<circle cx="278.9" cy="448" r="1.78"/>
<circle cx="286.6" cy="454.3" r="1.78"/>
<circle cx="278.9" cy="457.6" r="1.78"/>
<circle cx="281.5" cy="457.9" r="1.78"/>
<circle cx="283.5" cy="456.7" r="1.78"/>
<circle cx="281" cy="459.4" r="1.78"/>
<circle cx="285.4" cy="460.4" r="1.78"/>
<circle cx="279.6" cy="472.9" r="1.78"/>
<circle cx="283.7" cy="471.7" r="1.78"/>
<circle cx="283.2" cy="478.7" r="1.78"/>
<circle cx="285" cy="480.4" r="1.78"/>
<circle cx="278.1" cy="483.1" r="1.78"/>
<circle cx="284.7" cy="482.2" r="1.78"/>
<circle cx="286.4" cy="490" r="1.78"/>
<circle cx="284.2" cy="493.3" r="1.78"/>
<circle cx="279.6" cy="500.7" r="1.78"/>
<circle cx="281.3" cy="512.4" r="1.78"/>
<circle cx="279.3" cy="518.9" r="1.78"/>
<circle cx="286.4" cy="526.2" r="1.78"/>
<circle cx="284.4" cy="535.2" r="1.78"/>
</g>
<text transform="translate(57.9 625) scale(1.07 1)" class="lt">a</text>
<text transform="translate(103.2 625) scale(1.07 1)" class="lt">a</text>
<text transform="translate(148.5 625) scale(1.07 1)" class="lt">a</text>
<text transform="translate(193.8 625) scale(1.07 1)" class="lt">b</text>
<text transform="translate(239.1 625) scale(1.07 1)" class="lt">b</text>
<text transform="translate(284.4 625) scale(1.07 1)" class="lt">b</text>
<rect x="23.7" y="353" width="292.3" height="272.8" class="fr"/>
<line x1="20.5" y1="357.3" x2="23.7" y2="357.3" class="tk"/>
<text x="19.1" y="362" class="yl">600</text>
<line x1="20.5" y1="422.4" x2="23.7" y2="422.4" class="tk"/>
<text x="19.1" y="426" class="yl">500</text>
<line x1="20.5" y1="487.4" x2="23.7" y2="487.4" class="tk"/>
<text x="19.1" y="492" class="yl">400</text>
<line x1="20.5" y1="552.4" x2="23.7" y2="552.4" class="tk"/>
<text x="19.1" y="556" class="yl">300</text>
<line x1="20.5" y1="617.4" x2="23.7" y2="617.4" class="tk"/>
<text x="19.1" y="622" class="yl">200</text>
<line x1="56.9" y1="625.8" x2="56.9" y2="629" class="tk"/>
<text x="40" y="634.5" transform="rotate(20 40 634.5)" class="xl">Col-0</text>
<line x1="102.2" y1="625.8" x2="102.2" y2="629" class="tk"/>
<text x="85.3" y="634.5" transform="rotate(20 85.3 634.5)" class="xl">ataf2-1</text>
<line x1="147.5" y1="625.8" x2="147.5" y2="629" class="tk"/>
<text x="130.6" y="634.5" transform="rotate(20 130.6 634.5)" class="xl">ataf2-2</text>
<line x1="192.8" y1="625.8" x2="192.8" y2="629" class="tk"/>
<text x="175.9" y="634.5" transform="rotate(20 175.9 634.5)" class="xl">ATAF2ox-1</text>
<line x1="238.1" y1="625.8" x2="238.1" y2="629" class="tk"/>
<text x="221.2" y="634.5" transform="rotate(20 221.2 634.5)" class="xl">ATAF2ox-2</text>
<line x1="283.4" y1="625.8" x2="283.4" y2="629" class="tk"/>
<text x="266.5" y="634.5" transform="rotate(20 266.5 634.5)" class="xl">ATAF2ox-3</text>
<!-- panel d -->
<text x="560" y="378.8" class="dt" text-anchor="middle">Chl-<tspan font-style="italic">b</tspan></text>
<text x="402.3" y="411.6" class="dt">ATAF2</text>
<text x="508.8" y="411.5" class="dt">NYC1</text>
<text x="559.8" y="448.3" class="dt" text-anchor="middle">7-hydroxymethyl Chl-<tspan font-style="italic">a</tspan></text>
<text x="560" y="566.6" class="dt" text-anchor="middle">LHCII degradation</text>
<text x="560.5" y="636.3" class="dt" text-anchor="middle">[Chl-<tspan font-style="italic">a</tspan>]</text>
<line x1="463" y1="405.6" x2="504" y2="405.6" class="ar" stroke-width="2.4"/>
<line x1="504" y1="395.8" x2="504" y2="415.2" class="ar"/>
<line x1="559.9" y1="389.7" x2="559.9" y2="421" class="ar"/>
<path d="M554.4 420 L565.4 420 L559.9 429.2 Z" fill="#1a1a1a"/>
<line x1="559.9" y1="455" x2="559.9" y2="487" class="ar"/>
<path d="M554.4 486 L565.4 486 L559.9 495.2 Z" fill="#1a1a1a"/>
<line x1="559.9" y1="503.9" x2="559.9" y2="535" class="ar"/>
<path d="M554.4 534.2 L565.4 534.2 L559.9 543.7 Z" fill="#1a1a1a"/>
<line x1="560.1" y1="574.1" x2="560.1" y2="614.8" class="ar"/>
<line x1="549.8" y1="614.8" x2="570.2" y2="614.8" class="ar" stroke-width="2.5"/>
</svg>
</body></html>
